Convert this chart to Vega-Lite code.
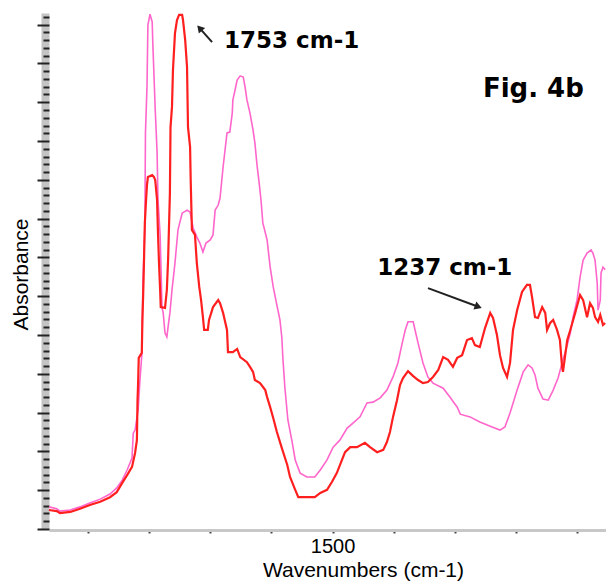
{
  "$schema": "https://vega.github.io/schema/vega-lite/v6.json",
  "width": 557,
  "height": 516,
  "autosize": {"type": "none"},
  "padding": {"left": 49, "top": 13, "right": 0, "bottom": 52},
  "background": "white",
  "config": {
    "view": {"stroke": null},
    "axis": {"grid": false, "labelFont": "Liberation Sans", "titleFont": "Liberation Sans"}
  },
  "datasets": {
    "red": [
      {"wn": 1964, "abs": 0.049}, {"wn": 1951, "abs": 0.046}, {"wn": 1946, "abs": 0.041}, {"wn": 1929, "abs": 0.044},
      {"wn": 1913, "abs": 0.052}, {"wn": 1897, "abs": 0.062}, {"wn": 1880, "abs": 0.070}, {"wn": 1864, "abs": 0.082},
      {"wn": 1853, "abs": 0.095}, {"wn": 1844, "abs": 0.119}, {"wn": 1836, "abs": 0.139}, {"wn": 1828, "abs": 0.160},
      {"wn": 1823, "abs": 0.196}, {"wn": 1820, "abs": 0.229}, {"wn": 1819, "abs": 0.332}, {"wn": 1818, "abs": 0.376},
      {"wn": 1817, "abs": 0.441}, {"wn": 1812, "abs": 0.454}, {"wn": 1811, "abs": 0.539}, {"wn": 1810, "abs": 0.590},
      {"wn": 1809, "abs": 0.649}, {"wn": 1807, "abs": 0.789}, {"wn": 1805, "abs": 0.848}, {"wn": 1803.5, "abs": 0.887},
      {"wn": 1802, "abs": 0.907}, {"wn": 1795, "abs": 0.912}, {"wn": 1792, "abs": 0.907}, {"wn": 1790, "abs": 0.899},
      {"wn": 1787, "abs": 0.848}, {"wn": 1785.5, "abs": 0.763}, {"wn": 1784, "abs": 0.693}, {"wn": 1782, "abs": 0.616},
      {"wn": 1781, "abs": 0.572}, {"wn": 1774, "abs": 0.570}, {"wn": 1771, "abs": 0.616}, {"wn": 1769, "abs": 0.693},
      {"wn": 1766, "abs": 0.866}, {"wn": 1765, "abs": 1.036}, {"wn": 1762.6, "abs": 1.088}, {"wn": 1761, "abs": 1.183},
      {"wn": 1757.7, "abs": 1.278}, {"wn": 1754.4, "abs": 1.312}, {"wn": 1751, "abs": 1.325}, {"wn": 1746, "abs": 1.325},
      {"wn": 1744.6, "abs": 1.312}, {"wn": 1741, "abs": 1.260}, {"wn": 1738, "abs": 1.191}, {"wn": 1736.4, "abs": 1.036},
      {"wn": 1733, "abs": 0.985}, {"wn": 1732, "abs": 0.899}, {"wn": 1730, "abs": 0.771}, {"wn": 1725, "abs": 0.758},
      {"wn": 1722, "abs": 0.686}, {"wn": 1718, "abs": 0.624}, {"wn": 1715, "abs": 0.590}, {"wn": 1712, "abs": 0.546},
      {"wn": 1710, "abs": 0.513}, {"wn": 1704, "abs": 0.513}, {"wn": 1702, "abs": 0.539}, {"wn": 1695.5, "abs": 0.572},
      {"wn": 1687, "abs": 0.590}, {"wn": 1684, "abs": 0.582}, {"wn": 1679, "abs": 0.557}, {"wn": 1672.6, "abs": 0.513},
      {"wn": 1671, "abs": 0.456}, {"wn": 1663, "abs": 0.456}, {"wn": 1656, "abs": 0.464}, {"wn": 1651, "abs": 0.443},
      {"wn": 1640, "abs": 0.430}, {"wn": 1635, "abs": 0.418}, {"wn": 1630, "abs": 0.405}, {"wn": 1627, "abs": 0.384},
      {"wn": 1618.6, "abs": 0.376}, {"wn": 1610, "abs": 0.358}, {"wn": 1607, "abs": 0.340}, {"wn": 1602, "abs": 0.314},
      {"wn": 1597, "abs": 0.286}, {"wn": 1591, "abs": 0.250}, {"wn": 1583, "abs": 0.209}, {"wn": 1574, "abs": 0.165},
      {"wn": 1569.5, "abs": 0.134}, {"wn": 1561, "abs": 0.101}, {"wn": 1556, "abs": 0.082}, {"wn": 1529, "abs": 0.082},
      {"wn": 1520, "abs": 0.093}, {"wn": 1509, "abs": 0.101}, {"wn": 1501, "abs": 0.121}, {"wn": 1493, "abs": 0.144},
      {"wn": 1484.5, "abs": 0.178}, {"wn": 1479.5, "abs": 0.198}, {"wn": 1471, "abs": 0.211}, {"wn": 1460, "abs": 0.211},
      {"wn": 1447, "abs": 0.222}, {"wn": 1438.6, "abs": 0.211}, {"wn": 1427, "abs": 0.198}, {"wn": 1417, "abs": 0.204},
      {"wn": 1411, "abs": 0.224}, {"wn": 1406, "abs": 0.250}, {"wn": 1401, "abs": 0.289}, {"wn": 1394.5, "abs": 0.332},
      {"wn": 1389.6, "abs": 0.371}, {"wn": 1384.7, "abs": 0.389}, {"wn": 1376.5, "abs": 0.407}, {"wn": 1368, "abs": 0.394},
      {"wn": 1360, "abs": 0.384}, {"wn": 1352, "abs": 0.376}, {"wn": 1344, "abs": 0.379}, {"wn": 1335.6, "abs": 0.392},
      {"wn": 1327, "abs": 0.410}, {"wn": 1319, "abs": 0.443}, {"wn": 1311, "abs": 0.436}, {"wn": 1303, "abs": 0.418},
      {"wn": 1296, "abs": 0.441}, {"wn": 1288, "abs": 0.448}, {"wn": 1280, "abs": 0.487}, {"wn": 1272, "abs": 0.492},
      {"wn": 1267, "abs": 0.474}, {"wn": 1259, "abs": 0.469}, {"wn": 1250.5, "abs": 0.518}, {"wn": 1242, "abs": 0.557},
      {"wn": 1237.4, "abs": 0.544}, {"wn": 1231, "abs": 0.500}, {"wn": 1226, "abs": 0.448}, {"wn": 1221, "abs": 0.415},
      {"wn": 1214.5, "abs": 0.392}, {"wn": 1209.6, "abs": 0.428}, {"wn": 1204.7, "abs": 0.513}, {"wn": 1198, "abs": 0.564},
      {"wn": 1190, "abs": 0.611}, {"wn": 1182, "abs": 0.629}, {"wn": 1177, "abs": 0.629}, {"wn": 1173.6, "abs": 0.598},
      {"wn": 1168.7, "abs": 0.546}, {"wn": 1164, "abs": 0.544}, {"wn": 1157, "abs": 0.572}, {"wn": 1152, "abs": 0.557},
      {"wn": 1149, "abs": 0.513}, {"wn": 1144, "abs": 0.531}, {"wn": 1139, "abs": 0.539}, {"wn": 1132.7, "abs": 0.513},
      {"wn": 1128, "abs": 0.487}, {"wn": 1124.5, "abs": 0.418}, {"wn": 1123, "abs": 0.405}, {"wn": 1116, "abs": 0.487},
      {"wn": 1111, "abs": 0.513}, {"wn": 1103, "abs": 0.557}, {"wn": 1095, "abs": 0.603}, {"wn": 1090, "abs": 0.590},
      {"wn": 1083.6, "abs": 0.546}, {"wn": 1078.7, "abs": 0.582}, {"wn": 1074, "abs": 0.570}, {"wn": 1070.5, "abs": 0.546},
      {"wn": 1065.6, "abs": 0.534}, {"wn": 1062, "abs": 0.552}, {"wn": 1057.5, "abs": 0.526}, {"wn": 1054, "abs": 0.531}
    ],
    "mag": [
      {"wn": 1964, "abs": 0.057}, {"wn": 1951, "abs": 0.052}, {"wn": 1946, "abs": 0.046}, {"wn": 1929, "abs": 0.049},
      {"wn": 1913, "abs": 0.057}, {"wn": 1897, "abs": 0.067}, {"wn": 1880, "abs": 0.077}, {"wn": 1864, "abs": 0.090},
      {"wn": 1853, "abs": 0.106}, {"wn": 1844, "abs": 0.126}, {"wn": 1836, "abs": 0.152}, {"wn": 1828, "abs": 0.183},
      {"wn": 1826, "abs": 0.247}, {"wn": 1823, "abs": 0.255}, {"wn": 1818, "abs": 0.307}, {"wn": 1815, "abs": 0.384},
      {"wn": 1812, "abs": 0.448}, {"wn": 1810, "abs": 0.642}, {"wn": 1807, "abs": 0.778}, {"wn": 1806, "abs": 1.021},
      {"wn": 1803.5, "abs": 1.139}, {"wn": 1802, "abs": 1.299}, {"wn": 1798.6, "abs": 1.327}, {"wn": 1795, "abs": 1.307},
      {"wn": 1794, "abs": 1.253}, {"wn": 1790, "abs": 1.080}, {"wn": 1787, "abs": 0.972}, {"wn": 1785.5, "abs": 0.848},
      {"wn": 1782, "abs": 0.758}, {"wn": 1780.6, "abs": 0.675}, {"wn": 1779, "abs": 0.572}, {"wn": 1777, "abs": 0.557},
      {"wn": 1774, "abs": 0.505}, {"wn": 1771, "abs": 0.495}, {"wn": 1769, "abs": 0.521}, {"wn": 1766, "abs": 0.557},
      {"wn": 1762.6, "abs": 0.616}, {"wn": 1757.7, "abs": 0.686}, {"wn": 1752.8, "abs": 0.771}, {"wn": 1746, "abs": 0.814},
      {"wn": 1738, "abs": 0.822}, {"wn": 1733, "abs": 0.817}, {"wn": 1728, "abs": 0.776}, {"wn": 1722, "abs": 0.753},
      {"wn": 1717, "abs": 0.737}, {"wn": 1712, "abs": 0.714}, {"wn": 1707, "abs": 0.737}, {"wn": 1700, "abs": 0.745},
      {"wn": 1695.5, "abs": 0.758}, {"wn": 1692, "abs": 0.822}, {"wn": 1687, "abs": 0.835}, {"wn": 1684, "abs": 0.853},
      {"wn": 1679, "abs": 0.933}, {"wn": 1672.6, "abs": 1.021}, {"wn": 1668, "abs": 1.023}, {"wn": 1664, "abs": 1.072},
      {"wn": 1663, "abs": 1.106}, {"wn": 1659.5, "abs": 1.131}, {"wn": 1656, "abs": 1.157}, {"wn": 1651, "abs": 1.168},
      {"wn": 1646, "abs": 1.165}, {"wn": 1643, "abs": 1.139}, {"wn": 1640, "abs": 1.106}, {"wn": 1635, "abs": 1.072},
      {"wn": 1630, "abs": 1.028}, {"wn": 1627, "abs": 0.995}, {"wn": 1623.5, "abs": 0.938}, {"wn": 1620, "abs": 0.892},
      {"wn": 1617, "abs": 0.848}, {"wn": 1614, "abs": 0.789}, {"wn": 1607, "abs": 0.745}, {"wn": 1602, "abs": 0.675},
      {"wn": 1597, "abs": 0.624}, {"wn": 1591, "abs": 0.577}, {"wn": 1586, "abs": 0.539}, {"wn": 1583, "abs": 0.495},
      {"wn": 1581, "abs": 0.436}, {"wn": 1578, "abs": 0.366}, {"wn": 1573, "abs": 0.281}, {"wn": 1566, "abs": 0.224},
      {"wn": 1561, "abs": 0.178}, {"wn": 1553, "abs": 0.144}, {"wn": 1542, "abs": 0.134}, {"wn": 1529, "abs": 0.134},
      {"wn": 1520, "abs": 0.152}, {"wn": 1509, "abs": 0.178}, {"wn": 1499, "abs": 0.211}, {"wn": 1488, "abs": 0.229},
      {"wn": 1476, "abs": 0.260}, {"wn": 1466.5, "abs": 0.273}, {"wn": 1455, "abs": 0.289}, {"wn": 1443.6, "abs": 0.325},
      {"wn": 1433.7, "abs": 0.327}, {"wn": 1422, "abs": 0.338}, {"wn": 1411, "abs": 0.358}, {"wn": 1401, "abs": 0.392},
      {"wn": 1393, "abs": 0.428}, {"wn": 1386, "abs": 0.479}, {"wn": 1381, "abs": 0.513}, {"wn": 1376.5, "abs": 0.534},
      {"wn": 1368, "abs": 0.534}, {"wn": 1365, "abs": 0.513}, {"wn": 1360, "abs": 0.479}, {"wn": 1352, "abs": 0.428},
      {"wn": 1344, "abs": 0.392}, {"wn": 1335.6, "abs": 0.376}, {"wn": 1319, "abs": 0.363}, {"wn": 1308, "abs": 0.340},
      {"wn": 1296, "abs": 0.314}, {"wn": 1291, "abs": 0.296}, {"wn": 1275, "abs": 0.289}, {"wn": 1259, "abs": 0.276},
      {"wn": 1242, "abs": 0.265}, {"wn": 1226, "abs": 0.255}, {"wn": 1218, "abs": 0.263}, {"wn": 1209.6, "abs": 0.299},
      {"wn": 1198, "abs": 0.358}, {"wn": 1188, "abs": 0.405}, {"wn": 1180, "abs": 0.423}, {"wn": 1173.6, "abs": 0.415},
      {"wn": 1168.7, "abs": 0.397}, {"wn": 1164, "abs": 0.363}, {"wn": 1155.6, "abs": 0.335}, {"wn": 1147, "abs": 0.332},
      {"wn": 1139, "abs": 0.358}, {"wn": 1131, "abs": 0.389}, {"wn": 1123, "abs": 0.436}, {"wn": 1116, "abs": 0.474},
      {"wn": 1111, "abs": 0.505}, {"wn": 1106.5, "abs": 0.546}, {"wn": 1100, "abs": 0.590}, {"wn": 1095, "abs": 0.649},
      {"wn": 1090, "abs": 0.693}, {"wn": 1083.6, "abs": 0.711}, {"wn": 1077, "abs": 0.719}, {"wn": 1074, "abs": 0.711},
      {"wn": 1070.5, "abs": 0.693}, {"wn": 1067, "abs": 0.634}, {"wn": 1065.6, "abs": 0.564}, {"wn": 1062, "abs": 0.590},
      {"wn": 1060.7, "abs": 0.660}, {"wn": 1057.5, "abs": 0.675}, {"wn": 1054, "abs": 0.668}
    ],
    "peaks": [
      {"wn": 1677.5, "abs": 1.240, "t": "1753 cm-1"},
      {"wn": 1427, "abs": 0.655, "t": "1237 cm-1"}
    ],
    "fig": [
      {"wn": 1254, "abs": 1.113, "t": "Fig. 4b"}
    ],
    "arrows": [
      {"wn": 1697, "abs": 1.255, "wn2": 1717.4, "abs2": 1.291},
      {"wn": 1343.8, "abs": 0.621, "wn2": 1261.5, "abs2": 0.573}
    ]
  },
  "layer": [
    {
      "data": {"name": "mag"},
      "mark": {"type": "line", "color": "#ff66cc", "strokeWidth": 1.6},
      "encoding": {
        "x": {
          "field": "wn", "type": "quantitative",
          "scale": {"domain": [1052.6, 1963.8], "reverse": true, "nice": false, "zero": false},
          "axis": {
            "values": [1100, 1200, 1300, 1400, 1500, 1600, 1700, 1800, 1900],
            "labelExpr": "datum.value == 1500 ? '1500' : ''",
            "labelFontSize": 20, "labelColor": "black", "labelBaseline": "alphabetic", "labelPadding": 19,
            "labelOverlap": false, "labelFlush": false,
            "tickSize": 3, "tickWidth": 2, "tickColor": "#444",
            "domainColor": "#c8c8c8", "domainWidth": 3, "offset": 1,
            "title": "Wavenumbers (cm-1)", "titleFontSize": 21, "titleFontWeight": "normal", "titleColor": "black",
            "titleX": 314, "titleY": 46, "titleBaseline": "alphabetic", "titleAlign": "center"
          }
        },
        "y": {
          "field": "abs", "type": "quantitative",
          "scale": {"domain": [0, 1.33], "nice": false, "zero": false},
          "axis": {
            "orient": "left", "offset": 4, "domain": true, "domainColor": "#c4c4c4", "domainWidth": 8,
            "ticks": false, "labels": false, "title": null
          }
        }
      }
    },
    {
      "data": {"name": "red"},
      "mark": {"type": "line", "color": "#ff1f1f", "strokeWidth": 2.2},
      "encoding": {
        "x": {"field": "wn", "type": "quantitative", "scale": {"domain": [1052.6, 1963.8], "reverse": true, "nice": false, "zero": false}},
        "y": {
          "field": "abs", "type": "quantitative",
          "scale": {"domain": [0, 1.33], "nice": false, "zero": false},
          "axis": {
            "orient": "left", "offset": 0, "domain": false, "labels": false,
            "values": [0, 0.02, 0.04, 0.06, 0.08, 0.1, 0.12, 0.14, 0.16, 0.18, 0.2, 0.22, 0.24, 0.26, 0.28, 0.3, 0.32, 0.34, 0.36, 0.38, 0.4, 0.42, 0.44, 0.46, 0.48, 0.5, 0.52, 0.54, 0.56, 0.58, 0.6, 0.62, 0.64, 0.66, 0.68, 0.7, 0.72, 0.74, 0.76, 0.78, 0.8, 0.82, 0.84, 0.86, 0.88, 0.9, 0.92, 0.94, 0.96, 0.98, 1, 1.02, 1.04, 1.06, 1.08, 1.1, 1.12, 1.14, 1.16, 1.18, 1.2, 1.22, 1.24, 1.26, 1.28, 1.3, 1.32],
            "tickColor": "#222", "tickWidth": 2,
            "tickSize": {"condition": {"test": "abs(datum.value*10 - round(datum.value*10)) < 0.01", "value": 12}, "value": 6},
            "title": "Absorbance", "titleFontSize": 21, "titleFontWeight": "normal", "titleColor": "black",
            "titleX": -22, "titleY": 261, "titleAngle": 270, "titleBaseline": "alphabetic", "titleAlign": "center"
          }
        }
      }
    },
    {
      "data": {"name": "arrows"},
      "mark": {"type": "rule", "color": "#222", "strokeWidth": 2},
      "encoding": {
        "x": {"field": "wn", "type": "quantitative"},
        "x2": {"field": "wn2"},
        "y": {"field": "abs", "type": "quantitative", "axis": null},
        "y2": {"field": "abs2"}
      }
    },
    {
      "data": {"values": [{"wn": 1717.4, "abs": 1.291}]},
      "mark": {"type": "point", "shape": "triangle-up", "filled": true, "color": "#222", "size": 70, "angle": 319, "opacity": 1},
      "encoding": {
        "x": {"field": "wn", "type": "quantitative"},
        "y": {"field": "abs", "type": "quantitative", "axis": null}
      }
    },
    {
      "data": {"values": [{"wn": 1261.5, "abs": 0.573}]},
      "mark": {"type": "point", "shape": "triangle-up", "filled": true, "color": "#222", "size": 70, "angle": 110, "opacity": 1},
      "encoding": {
        "x": {"field": "wn", "type": "quantitative"},
        "y": {"field": "abs", "type": "quantitative", "axis": null}
      }
    },
    {
      "data": {"name": "peaks"},
      "mark": {"type": "text", "font": "DejaVu Sans", "fontWeight": "bold", "fontSize": 23, "color": "black", "align": "left", "baseline": "alphabetic"},
      "encoding": {
        "x": {"field": "wn", "type": "quantitative"},
        "y": {"field": "abs", "type": "quantitative", "axis": null},
        "text": {"field": "t"}
      }
    },
    {
      "data": {"name": "fig"},
      "mark": {"type": "text", "font": "DejaVu Sans", "fontWeight": "bold", "fontSize": 26, "color": "black", "align": "left", "baseline": "alphabetic"},
      "encoding": {
        "x": {"field": "wn", "type": "quantitative"},
        "y": {"field": "abs", "type": "quantitative", "axis": null},
        "text": {"field": "t"}
      }
    }
  ],
  "resolve": {"axis": {"y": "independent"}}
}
